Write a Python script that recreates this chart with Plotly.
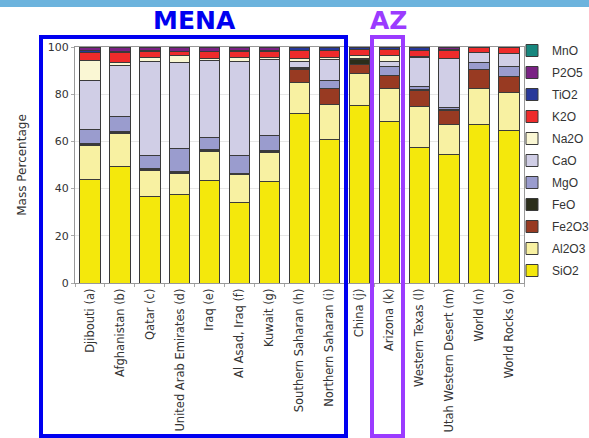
import plotly.graph_objects as go

categories = ["Djibouti (a)", "Afghanistan (b)", "Qatar (c)", "United Arab Emirates (d)",
              "Iraq (e)", "Al Asad, Iraq (f)", "Kuwait (g)", "Southern Saharan (h)",
              "Northern Saharan (i)", "China (j)", "Arizona (k)", "Western Texas (l)",
              "Utah Western Desert (m)", "World (n)", "World Rocks (o)"]

SiO2  = [44.0, 49.4, 36.6, 37.4, 43.3, 34.0, 43.0, 72.0, 61.0, 75.2, 68.4, 57.4, 54.6, 67.0, 64.5]
Al2O3 = [14.4, 14.0, 11.2, 9.1, 12.4, 11.8, 12.3, 13.1, 14.5, 13.7, 13.9, 17.4, 12.4, 15.6, 16.1]
Fe2O3 = [0.4, 0.3, 0.3, 0.3, 0.4, 0.3, 0.3, 5.3, 6.8, 3.6, 5.6, 6.8, 6.3, 7.8, 7.1]
FeO   = [0.5, 0.5, 0.3, 0.3, 0.5, 0.3, 0.4, 0.3, 0.3, 2.3, 0.2, 0.2, 0.2, 0.0, 0.0]
MgO   = [5.7, 6.4, 5.6, 10.1, 5.0, 7.8, 6.4, 0.8, 3.2, 0.2, 3.8, 1.5, 1.0, 2.9, 4.2]
CaO   = [21.0, 21.6, 40.0, 36.4, 32.7, 39.8, 32.4, 2.4, 9.0, 0.3, 2.1, 12.2, 20.5, 4.3, 5.3]
Na2O  = [8.3, 1.4, 1.4, 2.6, 1.0, 1.7, 0.9, 1.4, 0.9, 1.2, 2.2, 0.3, 0.3, 0.0, 0.0]
K2O   = [3.3, 4.0, 2.9, 1.7, 2.6, 2.5, 2.5, 3.3, 2.9, 2.5, 2.8, 2.8, 3.3, 2.4, 2.8]
TiO2  = [0.8, 0.6, 0.3, 0.3, 0.3, 0.3, 0.3, 1.1, 1.1, 0.8, 0.8, 1.2, 0.4, 0.0, 0.0]
P2O5  = [1.4, 1.6, 1.2, 1.6, 1.6, 1.3, 1.3, 0.2, 0.2, 0.1, 0.1, 0.1, 0.9, 0.0, 0.0]
MnO   = [0.2, 0.2, 0.2, 0.2, 0.2, 0.2, 0.2, 0.1, 0.1, 0.1, 0.1, 0.1, 0.1, 0.0, 0.0]

series = [
    ("SiO2", SiO2, "#F4E80C"),
    ("Al2O3", Al2O3, "#F8F1A2"),
    ("Fe2O3", Fe2O3, "#983A22"),
    ("FeO", FeO, "#2B2E1A"),
    ("MgO", MgO, "#9A9CCE"),
    ("CaO", CaO, "#D0CEE6"),
    ("Na2O", Na2O, "#FAF7D4"),
    ("K2O", K2O, "#EE2B2B"),
    ("TiO2", TiO2, "#28389A"),
    ("P2O5", P2O5, "#7A2284"),
    ("MnO", MnO, "#17877E"),
]

W, H = 589, 438
ML, MR, MT, MB = 75, 65, 47, 155
PW, PH = W - ML - MR, H - MT - MB

def px(x):
    return (x - ML) / PW

def py(y):
    return 1 - (y - MT) / PH

fig = go.Figure()
n = len(series)
for i, (name, vals, col) in enumerate(series):
    fig.add_trace(go.Bar(
        x=categories, y=vals, name=name, legendgroup=name, legendrank=1000 - i,
        marker=dict(color=col, line=dict(color="#3a3a3a", width=1)),
    ))

font = "DejaVu Sans"
fig.update_layout(
    width=W, height=H,
    margin=dict(l=ML, r=MR, t=MT, b=MB, autoexpand=False),
    barmode="stack", bargap=0.32,
    plot_bgcolor="white", paper_bgcolor="white",
    font=dict(family=font, size=11, color="#333333"),
    legend=dict(traceorder="grouped", x=px(512), xanchor="left", y=py(36), yanchor="top",
                font=dict(family="Liberation Sans", size=12, color="#333333"), tracegroupgap=3,
                itemwidth=30, bgcolor="rgba(0,0,0,0)", maxheight=420),
    xaxis=dict(tickangle=-90, tickson="boundaries", ticks="outside", ticklen=3,
               tickcolor="#aaaaaa", showline=True, linecolor="#999999", mirror=True,
               tickfont=dict(size=11.5, color="#333333"), categoryorder="array",
               categoryarray=categories, automargin=False),
    yaxis=dict(range=[0, 100], dtick=20, showgrid=True, gridcolor="#e6e6e6",
               ticks="outside", ticklen=3, tickcolor="#aaaaaa",
               showline=True, linecolor="#999999", mirror=True, automargin=False,
               tickfont=dict(size=11, color="#333333"),
               title=dict(text="Mass Percentage", font=dict(size=12, color="#333333"), standoff=18)),
    shapes=[
        dict(type="rect", xref="paper", yref="paper", x0=px(0), x1=px(W), y0=py(0), y1=py(7),
             fillcolor="#6CB3DD", line=dict(width=0), layer="above"),
        dict(type="rect", xref="paper", yref="paper", x0=px(41), x1=px(346), y0=py(37), y1=py(436),
             line=dict(color="#0000F0", width=4), layer="above"),
        dict(type="rect", xref="paper", yref="paper", x0=px(372), x1=px(403), y0=py(37), y1=py(436),
             line=dict(color="#9B3BFF", width=4), layer="above"),
    ],
    annotations=[
        dict(text="<b>MENA</b>", xref="paper", yref="paper", x=px(194), y=py(20),
             xanchor="center", yanchor="middle",
             showarrow=False, font=dict(family=font, size=25, color="#0000F0")),
        dict(text="<b>AZ</b>", xref="paper", yref="paper", x=px(388), y=py(20),
             xanchor="center", yanchor="middle",
             showarrow=False, font=dict(family=font, size=25, color="#9B3BFF")),
    ],
)

fig.write_html("out.html")
